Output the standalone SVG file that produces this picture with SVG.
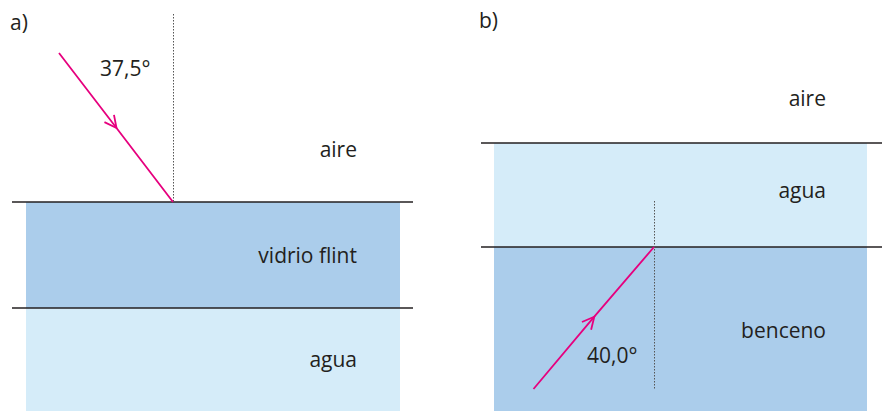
<svg xmlns="http://www.w3.org/2000/svg" width="882" height="411" viewBox="0 0 882 411">
<style>
.t{font-family:"Open Sans","Liberation Sans",sans-serif;font-size:21px;fill:#231f20}
.ta{text-anchor:end}
.dark{fill:#abcdeb}
.light{fill:#d5ecf9}
.iface{stroke:#231f20;stroke-width:1.3;fill:none}
.normal{stroke:#555;stroke-width:1;stroke-dasharray:1.5 1.5;fill:none}
.ray{stroke:#e6007e;stroke-width:1.8;fill:none;marker-mid:url(#chev)}
</style>
<defs>
<marker id="chev" markerUnits="userSpaceOnUse" orient="auto" viewBox="-14 -8 16 16" refX="0" refY="0" markerWidth="16" markerHeight="16" overflow="visible">
<path d="M-12,-6 L0,0 L-12,6" stroke="#e6007e" stroke-width="1.8" fill="none"/>
</marker>
</defs>
<g id="panel-a">
<g id="a-label"><text class="t" x="10" y="30">a)</text></g>
<g id="a-flint"><rect class="dark" x="26" y="202" width="374" height="106"/><text class="t ta" x="357" y="263">vidrio flint</text></g>
<g id="a-agua"><rect class="light" x="26" y="308" width="374" height="103"/><text class="t ta" x="357" y="367">agua</text></g>
<g id="a-aire"><text class="t ta" x="357" y="157">aire</text></g>
<g id="a-angle"><text class="t" x="100" y="76">37,5°</text></g>
</g>
<g id="panel-b">
<g id="b-label"><text class="t" x="479" y="28">b)</text></g>
<g id="b-agua"><rect class="light" x="494" y="143" width="373" height="104"/><text class="t ta" x="826" y="198">agua</text></g>
<g id="b-benceno"><rect class="dark" x="494" y="247" width="373" height="164"/><text class="t ta" x="826" y="338">benceno</text></g>
<g id="b-aire"><text class="t ta" x="826" y="106">aire</text></g>
<g id="b-angle"><text class="t" x="587" y="363">40,0°</text></g>
</g>
<g id="connectors">
<line class="iface" x1="12" y1="202" x2="413" y2="202"/>
<line class="iface" x1="12" y1="308" x2="413" y2="308"/>
<line class="iface" x1="481" y1="143" x2="882" y2="143"/>
<line class="iface" x1="481" y1="247" x2="882" y2="247"/>
<line class="normal" x1="173.5" y1="14" x2="173.5" y2="202"/>
<line class="normal" x1="654.5" y1="201" x2="654.5" y2="389"/>
<path class="ray" d="M59,53 L116.5,128 L173,202"/>
<path class="ray" d="M533.5,389 L594.3,316.7 L654,247"/>
</g>
</svg>
